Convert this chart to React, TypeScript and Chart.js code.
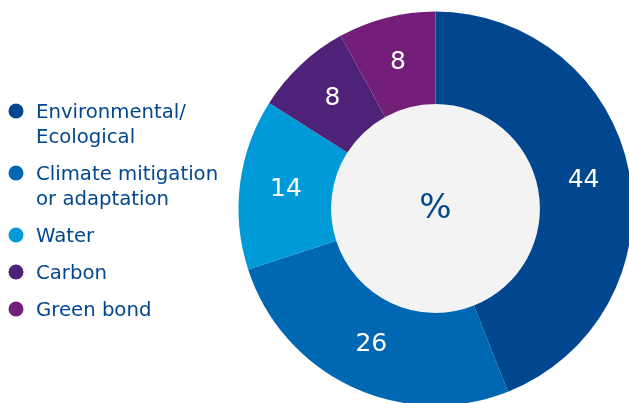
import React, { useEffect, useRef } from "react";
import { Chart, registerables } from "chart.js";

Chart.register(...registerables);

const categories: string[][] = [
  ["Environmental/", "Ecological"],
  ["Climate mitigation", "or adaptation"],
  ["Water"],
  ["Carbon"],
  ["Green bond"],
];
const values: number[] = [44, 26, 14, 8, 8];
const colors: string[] = ["#00478f", "#0068b3", "#009ad9", "#4f2279", "#731f7a"];
const centerText = "%";

const TEXT_COLOR = "#00478f";
const FONT = "'DejaVu Sans', sans-serif";

const donutExtras = {
  id: "donutExtras",
  beforeDatasetsDraw(chart: any) {
    const arc = chart.getDatasetMeta(0).data[0];
    if (!arc) return;
    const { x, y, innerRadius } = arc.getProps(["x", "y", "innerRadius"], true);
    const ctx = chart.ctx;
    ctx.save();
    ctx.beginPath();
    ctx.arc(x, y, innerRadius, 0, Math.PI * 2);
    ctx.fillStyle = "#f3f3f3";
    ctx.fill();
    ctx.restore();
  },
  afterDatasetsDraw(chart: any) {
    const ctx = chart.ctx;
    const meta = chart.getDatasetMeta(0);
    const data = chart.data.datasets[0].data;
    ctx.save();
    ctx.textAlign = "center";
    ctx.textBaseline = "middle";
    ctx.fillStyle = "#ffffff";
    ctx.font = `25px ${FONT}`;
    meta.data.forEach((el: any, i: number) => {
      const p = el.tooltipPosition(true);
      ctx.fillText(String(data[i]), p.x, p.y);
    });
    const a0 = meta.data[0];
    const c = a0.getProps(["x", "y"], true);
    ctx.fillStyle = TEXT_COLOR;
    ctx.font = `34px ${FONT}`;
    ctx.fillText(centerText, c.x, c.y + 1);
    ctx.restore();
  },
  afterDraw(chart: any) {
    const ctx = chart.ctx;
    const labels = chart.data.labels as string[][];
    const bg = chart.data.datasets[0].backgroundColor as string[];
    const lineH = 25;
    const gap = 12;
    let baseline = 118;
    ctx.save();
    ctx.font = `19.7px ${FONT}`;
    ctx.textAlign = "left";
    ctx.textBaseline = "alphabetic";
    labels.forEach((lines, i) => {
      ctx.beginPath();
      ctx.arc(16, baseline - 7, 7.5, 0, Math.PI * 2);
      ctx.fillStyle = bg[i];
      ctx.fill();
      ctx.fillStyle = TEXT_COLOR;
      lines.forEach((ln, j) => {
        ctx.fillText(ln, 36, baseline + j * lineH);
      });
      baseline += lines.length * lineH + gap;
    });
    ctx.restore();
  },
};

export default function App() {
  const ref = useRef<HTMLCanvasElement | null>(null);
  useEffect(() => {
    if (!ref.current) return;
    const chart = new Chart(ref.current, {
      type: "doughnut",
      data: {
        labels: categories as any,
        datasets: [
          {
            data: values,
            backgroundColor: colors,
            borderWidth: 0,
            radius: 197,
            cutout: "53%",
          } as any,
        ],
      },
      options: {
        responsive: false,
        animation: false,
        devicePixelRatio: 1,
        layout: { padding: { left: 242, top: 14, right: 0, bottom: 0 } },
        plugins: {
          legend: { display: false },
          tooltip: { enabled: false },
        },
      },
      plugins: [donutExtras],
    });
    return () => chart.destroy();
  }, []);
  return (
    <div style={{ position: "fixed", left: 0, top: 0, width: 629, height: 403, background: "#fff" }}>
      <canvas ref={ref} width={629} height={403} style={{ width: 629, height: 403, display: "block" }} />
    </div>
  );
}
